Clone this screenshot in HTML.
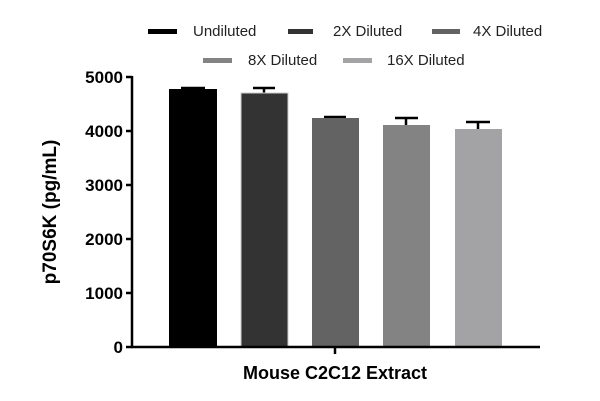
<!DOCTYPE html>
<html><head><meta charset="utf-8"><style>body{margin:0;background:#fff}svg{display:block}</style></head><body>
<svg width="600" height="401" xmlns="http://www.w3.org/2000/svg" font-family="Liberation Sans, sans-serif">
<g font-size="15" fill="#222">
<rect x="148" y="29" width="29" height="5" fill="#000"/><text x="193" y="36">Undiluted</text>
<rect x="288" y="29" width="25" height="5" fill="#333"/><text x="333" y="36">2X Diluted</text>
<rect x="432" y="29" width="28" height="5" fill="#636363"/><text x="473" y="36">4X Diluted</text>
<rect x="203" y="58" width="29" height="5" fill="#838383"/><text x="248" y="65">8X Diluted</text>
<rect x="343" y="58" width="29" height="5" fill="#a3a3a6"/><text x="387" y="65">16X Diluted</text>
</g>
<g stroke="#000" stroke-width="2.5">
<line x1="181" y1="88" x2="205" y2="88"/><rect x="169" y="89" width="48" height="258" fill="#000" stroke="none"/>
<line x1="253" y1="88" x2="275" y2="88"/><line x1="264" y1="88" x2="264" y2="93"/><rect x="241" y="93" width="47" height="254" fill="#333" stroke="#ccc" stroke-width="1"/>
<line x1="324" y1="117" x2="346" y2="117"/><rect x="312" y="118" width="47" height="229" fill="#636363" stroke="none"/>
<line x1="395" y1="118" x2="418" y2="118"/><line x1="406" y1="118" x2="406" y2="125"/><rect x="383" y="125" width="47" height="222" fill="#838383" stroke="none"/>
<line x1="466" y1="122" x2="490" y2="122"/><line x1="478" y1="122" x2="478" y2="129"/><rect x="455" y="129" width="47" height="218" fill="#a3a3a6" stroke="none"/>
<line x1="132" y1="76" x2="132" y2="348"/><line x1="131" y1="347" x2="540" y2="347"/>
<line x1="126" y1="77" x2="132" y2="77"/><line x1="126" y1="131" x2="132" y2="131"/><line x1="126" y1="185" x2="132" y2="185"/><line x1="126" y1="239" x2="132" y2="239"/><line x1="126" y1="293" x2="132" y2="293"/><line x1="126" y1="347" x2="132" y2="347"/>
<line x1="335" y1="347" x2="335" y2="354"/>
</g>
<g font-size="17" font-weight="bold" text-anchor="end">
<text x="123" y="83">5000</text><text x="123" y="137">4000</text><text x="123" y="191">3000</text><text x="123" y="245">2000</text><text x="123" y="299">1000</text><text x="123" y="353">0</text>
</g>
<text x="335" y="379" font-size="18" font-weight="bold" text-anchor="middle">Mouse C2C12 Extract</text>
<text transform="translate(56,212) rotate(-90)" font-size="19" font-weight="bold" text-anchor="middle">p70S6K (pg/mL)</text>
</svg>
</body></html>
